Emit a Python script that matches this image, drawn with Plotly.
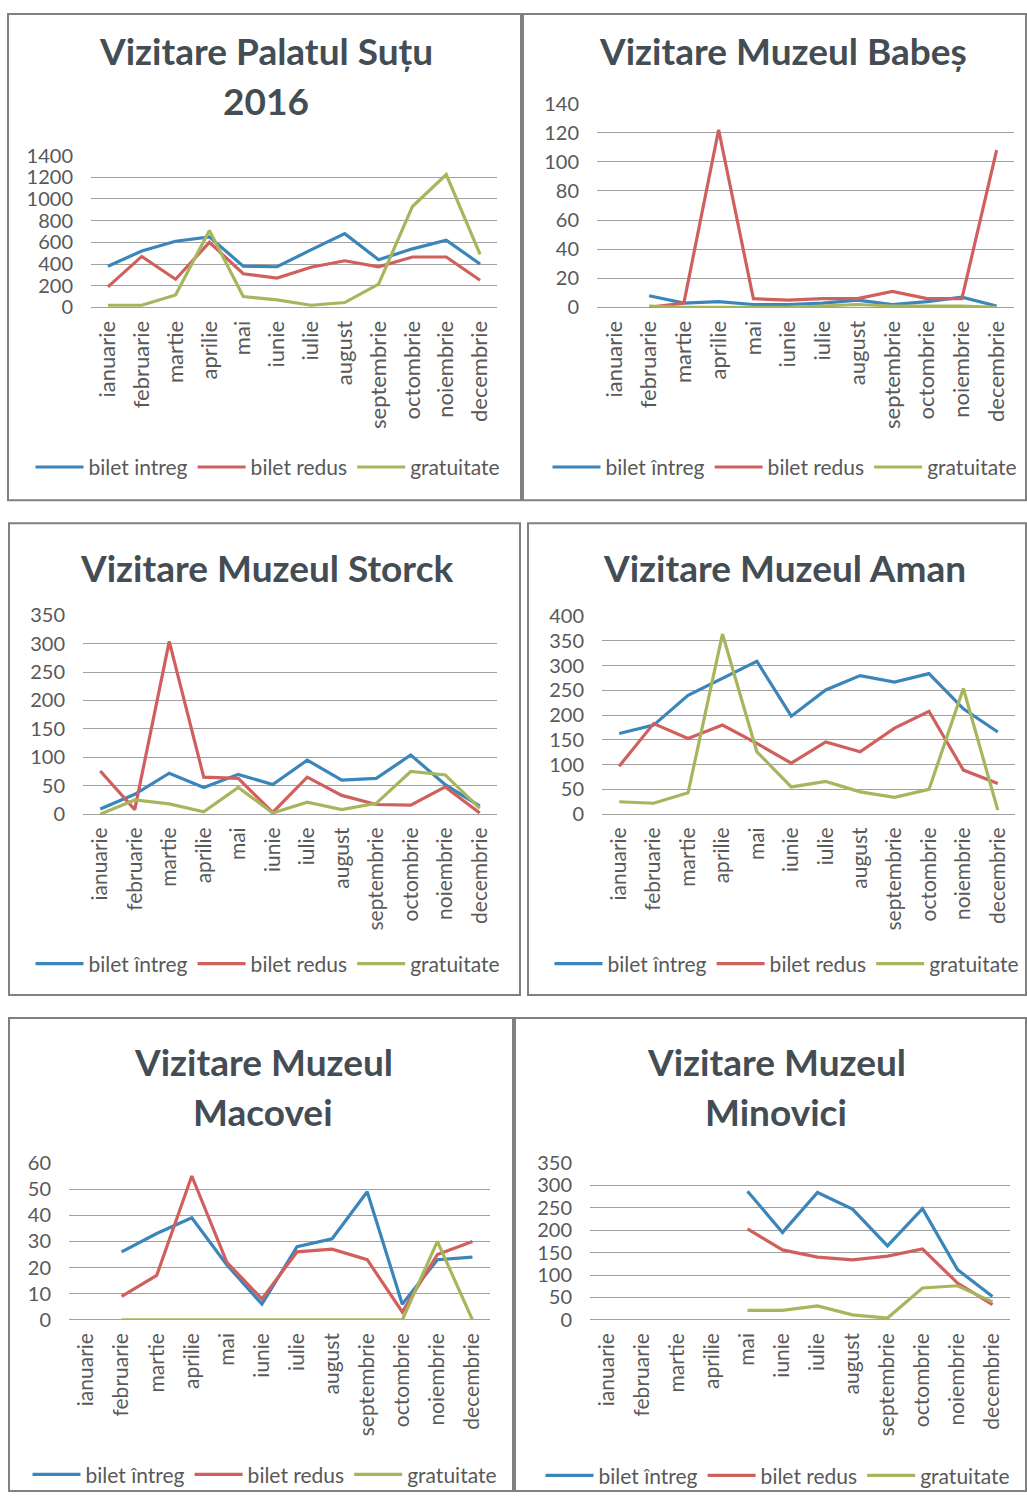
import plotly.graph_objects as go

W, H = 1027, 1503

months = ["ianuarie", "februarie", "martie", "aprilie", "mai", "iunie", "iulie",
          "august", "septembrie", "octombrie", "noiembrie", "decembrie"]

# Palatul Suțu 2016
sutu_intreg = [380, 520, 610, 650, 380, 375, 530, 680, 440, 540, 620, 400]
sutu_redus = [190, 470, 260, 600, 310, 270, 370, 430, 375, 465, 465, 250]
sutu_gratuit = [20, 20, 115, 710, 100, 70, 20, 45, 215, 930, 1225, 490]

# Muzeul Babeș
babes_intreg = [None, 8, 3, 4, 2, 2, 3, 5, 2, 4, 7, 1]
babes_redus = [None, 0, 3, 122, 6, 5, 6, 6, 11, 6, 6, 108]
babes_gratuit = [None, 1, 0, 0, 0, 0, 1, 2, 1, 1, 1, 0]

# Muzeul Storck
storck_intreg = [9, 35, 72, 47, 70, 52, 95, 60, 63, 104, 52, 14]
storck_redus = [76, 8, 304, 65, 63, 3, 65, 33, 17, 16, 48, 2]
storck_gratuit = [0, 25, 18, 4, 47, 2, 21, 8, 19, 75, 69, 10]

# Muzeul Aman
aman_intreg = [163, 180, 240, 274, 309, 198, 251, 280, 267, 284, 213, 166]
aman_redus = [97, 183, 153, 180, 143, 103, 146, 126, 174, 208, 89, 62]
aman_gratuit = [25, 22, 43, 364, 126, 55, 66, 45, 34, 50, 254, 8]

# Muzeul Macovei
macovei_intreg = [None, 26, 33, 39, 21, 6, 28, 31, 49, 6, 23, 24]
macovei_redus = [None, 9, 17, 55, 22, 8, 26, 27, 23, 3, 25, 30]
macovei_gratuit = [None, 0, 0, 0, 0, 0, 0, 0, 0, 0, 30, 0]

# Muzeul Minovici
minovici_intreg = [None, None, None, None, 287, 195, 284, 247, 165, 248, 112, 52]
minovici_redus = [None, None, None, None, 203, 156, 140, 134, 142, 158, 82, 34]
minovici_gratuit = [None, None, None, None, 21, 21, 31, 11, 4, 71, 76, 40]

titles = [
    ["Vizitare Palatul Suțu", "2016"],
    ["Vizitare Muzeul Babeș"],
    ["Vizitare Muzeul Storck"],
    ["Vizitare Muzeul Aman"],
    ["Vizitare Muzeul", "Macovei"],
    ["Vizitare Muzeul", "Minovici"],
]
intreg_labels = ["bilet intreg", "bilet întreg", "bilet întreg",
                 "bilet întreg", "bilet întreg", "bilet întreg"]
redus_label = "bilet redus"
gratuit_label = "gratuitate"

data = [
    (sutu_intreg, sutu_redus, sutu_gratuit),
    (babes_intreg, babes_redus, babes_gratuit),
    (storck_intreg, storck_redus, storck_gratuit),
    (aman_intreg, aman_redus, aman_gratuit),
    (macovei_intreg, macovei_redus, macovei_gratuit),
    (minovici_intreg, minovici_redus, minovici_gratuit),
]
y_max = [1400, 140, 350, 400, 60, 350]
y_step = [200, 20, 50, 50, 10, 50]

# layout (target pixel positions in the picture) ----------------------------
plot_boxes = [  # x0, x1, ytop, ybottom
    (91, 497, 155, 307),
    (597, 1014, 103, 307),
    (83, 497, 615, 814),
    (602, 1015, 616, 814),
    (69, 490, 1163, 1320),
    (590, 1010, 1163, 1320),
]
xtick_size = [22, 22, 21, 21, 21, 21]
title_pos = [  # center x, list of line y
    (266, [50, 100]),
    (783, [50]),
    (266, [567]),
    (784, [567]),
    (263, [1062, 1112]),
    (776, [1062, 1112]),
]
legend_pos = [(268, 467), (785, 467), (268, 964), (787, 964), (265, 1475), (778, 1476)]
frames = [(8, 5, 521, 500), (523, 5, 1026, 500), (9, 523, 520, 995),
          (528, 523, 1026, 995), (9, 1018, 513, 1502), (515, 1018, 1026, 1502)]

colors = ["#3A86BB", "#D0605D", "#A7B65C"]
FONT = "Lato"
GRAY = "#595959"
TITLE_C = "#434D53"

# the photographed page appears vertically mapped as  img_y = S * page_y + OFF
S, OFF = 0.9846, 12.4


def fx(px):
    return px / W


def page_y(py):
    return (py - OFF) / S


def fy(py, clamp=False):
    p = page_y(py)
    if clamp:
        p = min(max(p, 1.0), H - 1.0)
    return 1 - p / H


fig = go.Figure()
layout = dict(
    width=W, height=H, margin=dict(l=0, r=0, t=0, b=0),
    paper_bgcolor="white", plot_bgcolor="white",
    font=dict(family=FONT, color=GRAY),
    annotations=[], shapes=[],
)

for i, (series, box) in enumerate(zip(data, plot_boxes)):
    n = i + 1
    xa = "x" if n == 1 else f"x{n}"
    ya = "y" if n == 1 else f"y{n}"
    leg = "legend" if n == 1 else f"legend{n}"
    names = [intreg_labels[i], redus_label, gratuit_label]
    for s, name, c in zip(series, names, colors):
        fig.add_trace(go.Scatter(
            x=months, y=s, name=name, mode="lines",
            line=dict(color=c, width=3.2), xaxis=xa, yaxis=ya,
            legend=leg, connectgaps=False, hoverinfo="x+y+name",
        ))
    x0, x1, yt, yb = box
    xk = "xaxis" if n == 1 else f"xaxis{n}"
    yk = "yaxis" if n == 1 else f"yaxis{n}"
    layout[xk] = dict(
        domain=[fx(x0), fx(x1)], anchor=ya, type="category",
        categoryorder="array", categoryarray=months, range=[-0.5, 11.5],
        tickangle=-90, showgrid=False, showline=False, zeroline=False,
        ticks="", tickfont=dict(family=FONT, size=xtick_size[i], color=GRAY),
        ticklabelstandoff=8, fixedrange=True,
    )
    layout[yk] = dict(
        domain=[fy(yb), fy(yt)], anchor=xa, range=[0, y_max[i]],
        dtick=y_step[i], tick0=0, showgrid=True, gridcolor="#A0A0A0",
        gridwidth=1, zeroline=True, zerolinecolor="#A0A0A0", zerolinewidth=1,
        showline=False, ticks="", tickfont=dict(family=FONT, size=20, color=GRAY),
        ticklabelstandoff=17, fixedrange=True,
    )
    lx, ly = legend_pos[i]
    layout[leg] = dict(
        orientation="h", x=fx(lx), y=fy(ly), xanchor="center", yanchor="middle",
        xref="paper", yref="paper", font=dict(family=FONT, size=21, color=GRAY),
        bgcolor="rgba(0,0,0,0)", itemwidth=48, tracegroupgap=0,
        itemclick=False, itemdoubleclick=False,
    )
    cx, lines_y = title_pos[i]
    for txt, ty in zip(titles[i], lines_y):
        layout["annotations"].append(dict(
            text=f"<b>{txt}</b>", x=fx(cx), y=fy(ty), xref="paper", yref="paper",
            xanchor="center", yanchor="middle", showarrow=False,
            font=dict(family=FONT, size=37, color=TITLE_C),
        ))
    bx0, by0, bx1, by1 = frames[i]
    layout["shapes"].append(dict(
        type="rect", xref="paper", yref="paper",
        x0=fx(bx0), x1=fx(bx1), y0=fy(by1, clamp=True), y1=fy(by0, clamp=True),
        line=dict(color="#808080", width=2), fillcolor="rgba(0,0,0,0)",
    ))

fig.update_layout(**layout)

pin_script = (
    "document.documentElement.style.margin='0';"
    "document.documentElement.style.overflow='hidden';"
    "document.body.style.margin='0';"
    "document.body.style.overflow='hidden';"
    "var gd=document.getElementById('{plot_id}');"
    "gd.style.position='fixed';gd.style.top='0px';gd.style.left='0px';"
)
fig.write_html(
    "out.html",
    config={"displayModeBar": False},
    post_script=pin_script,
)
